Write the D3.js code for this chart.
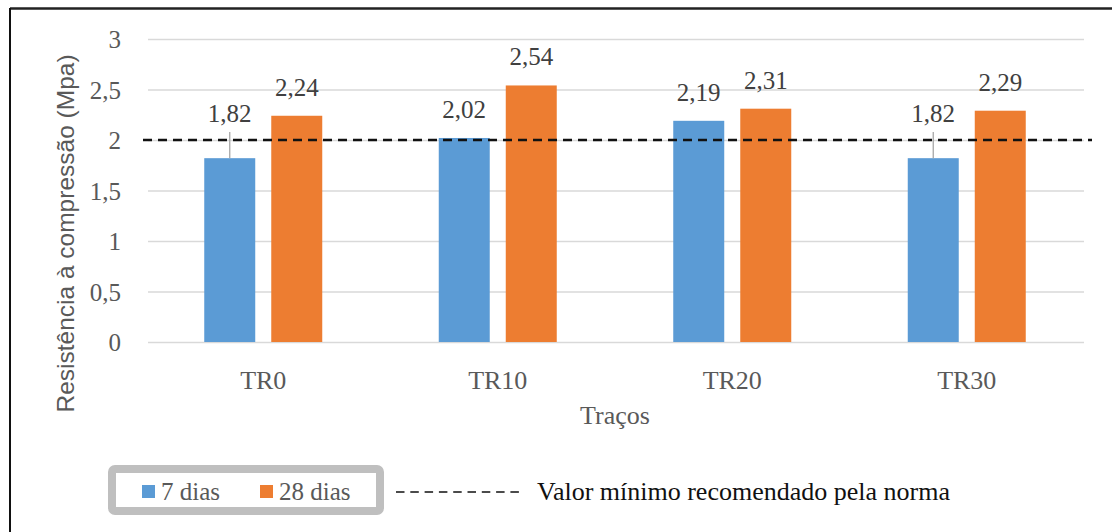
<!DOCTYPE html>
<html>
<head>
<meta charset="utf-8">
<script src="https://cdn.jsdelivr.net/npm/d3@7"></script>
<style>
  html, body { margin: 0; padding: 0; background: #fff; }
  svg { display: block; }
</style>
</head>
<body>
<script>
// Compressive strength per mix, at 7 and 28 days
const categories = ["TR0", "TR10", "TR20", "TR30"];
const seriesNames = ["7 dias", "28 dias"];
const values7 = [1.82, 2.02, 2.19, 1.82];
const values28 = [2.24, 2.54, 2.31, 2.29];
const yTicks = [0, 0.5, 1, 1.5, 2, 2.5, 3];
const minRecommended = 2;
const refLabel = "Valor mínimo recomendado pela norma";
const yTitle = "Resistência à compressão (Mpa)";
const xTitle = "Traços";

const W = 1112, H = 532;
const colors = { "7 dias": "#5b9bd5", "28 dias": "#ed7d31" };
const serif = "'Liberation Serif', 'Times New Roman', serif";
const sans = "'Liberation Sans', Arial, sans-serif";
const fmt = v => String(v).replace(".", ",");
const fmtTick = v => d3.format("~g")(v).replace(".", ",");

const rows = categories.map((c, i) => ({ cat: c, "7 dias": values7[i], "28 dias": values28[i] }));

const svg = d3.select("body").append("svg").attr("width", W).attr("height", H);

// frame of the figure
svg.append("line").attr("x1", 10).attr("x2", W).attr("y1", 8.5).attr("y2", 8.5)
  .attr("stroke", "#222").attr("stroke-width", 2.5);
svg.append("line").attr("x1", 10).attr("x2", 10).attr("y1", 8).attr("y2", H)
  .attr("stroke", "#111").attr("stroke-width", 2);

// scales
const plot = { left: 146, right: 1084, top: 39, bottom: 342 };
const x0 = d3.scaleBand().domain(categories).range([plot.left, plot.right]).padding(0);
const x1 = d3.scaleBand().domain(seriesNames).range([0, 118]).paddingInner(0.239).paddingOuter(0);
const y = d3.scaleLinear().domain([0, 3]).range([plot.bottom, plot.top]);

// gridlines + y tick labels
const yAxis = d3.axisLeft(y).tickValues(yTicks).tickSize(-(plot.right - plot.left - 2)).tickFormat(fmtTick).tickPadding(24);
const gy = svg.append("g").attr("transform", `translate(${plot.left + 2},0)`).call(yAxis);
gy.select(".domain").remove();
gy.selectAll(".tick line").attr("stroke", "#d9d9d9").attr("stroke-width", 1.5);
gy.selectAll(".tick text").attr("font-family", serif).attr("font-size", 25).attr("fill", "#595959")
  .attr("x", -27).attr("dy", "0.34em");

// category axis labels
const xAxis = d3.axisBottom(x0).tickSize(0).tickPadding(0);
const gx = svg.append("g").attr("transform", `translate(0,${plot.bottom})`).call(xAxis);
gx.select(".domain").remove();
gx.selectAll(".tick text").attr("font-family", serif).attr("font-size", 26).attr("fill", "#595959")
  .attr("y", 47).attr("dy", 0);

// bars
const groups = svg.append("g").selectAll("g").data(rows).join("g")
  .attr("transform", d => `translate(${x0(d.cat) + (x0.bandwidth() - 118) / 2},0)`);

groups.selectAll("rect").data(d => seriesNames.map(k => ({ key: k, value: d[k] }))).join("rect")
  .attr("x", d => x1(d.key))
  .attr("y", d => y(d.value))
  .attr("width", x1.bandwidth())
  .attr("height", d => y(0) - y(d.value))
  .attr("fill", d => colors[d.key]);

// value labels; a label that would sit on the reference line is lifted above it with a leader
const refY = y(minRecommended);
groups.each(function () {
  const g = d3.select(this);
  g.selectAll("rect").each(function (d) {
    const cx = x1(d.key) + x1.bandwidth() / 2;
    const top = y(d.value);
    let base = top - 20;
    const clashes = base > refY - 8 && base - 18 < refY + 4;
    if (clashes) {
      base = refY - 18;
      g.append("line").attr("x1", cx).attr("x2", cx)
        .attr("y1", top).attr("y2", refY - 8)
        .attr("stroke", "#a6a6a6").attr("stroke-width", 1.3);
    }
    g.append("text").attr("x", cx).attr("y", base)
      .attr("text-anchor", "middle")
      .attr("font-family", serif).attr("font-size", 25).attr("fill", "#404040")
      .text(fmt(d.value));
  });
});

// minimum recommended value line
svg.append("line")
  .attr("x1", plot.left - 3).attr("x2", 1092)
  .attr("y1", refY).attr("y2", refY)
  .attr("stroke", "#111").attr("stroke-width", 2.5)
  .attr("stroke-dasharray", "9,6");

// axis titles
svg.append("text")
  .attr("transform", `translate(74,${(50 + 417) / 2}) rotate(-90)`)
  .attr("text-anchor", "middle")
  .attr("font-family", sans).attr("font-size", 24.5).attr("fill", "#595959")
  .text(yTitle);

svg.append("text")
  .attr("x", (plot.left + plot.right) / 2).attr("y", 424)
  .attr("text-anchor", "middle")
  .attr("font-family", serif).attr("font-size", 26).attr("fill", "#595959")
  .text(xTitle);

// legend box with the two series
const legend = svg.append("g");
legend.append("rect")
  .attr("x", 112).attr("y", 469).attr("width", 268).attr("height", 42)
  .attr("rx", 3).attr("fill", "#fff")
  .attr("stroke", "#bfbfbf").attr("stroke-width", 8);

const legendPos = [142, 260];
seriesNames.forEach((k, i) => {
  legend.append("rect").attr("x", legendPos[i]).attr("y", 485)
    .attr("width", 13).attr("height", 13).attr("fill", colors[k]);
  legend.append("text").attr("x", legendPos[i] + 19).attr("y", 500)
    .attr("font-family", serif).attr("font-size", 25).attr("fill", "#595959")
    .text(k);
});

// legend entry for the reference line
svg.append("line")
  .attr("x1", 396).attr("x2", 519).attr("y1", 492).attr("y2", 492)
  .attr("stroke", "#111").attr("stroke-width", 1.6)
  .attr("stroke-dasharray", "8.5,5.8");
svg.append("text").attr("x", 537).attr("y", 500)
  .attr("font-family", serif).attr("font-size", 26).attr("fill", "#111")
  .text(refLabel);
</script>
</body>
</html>
